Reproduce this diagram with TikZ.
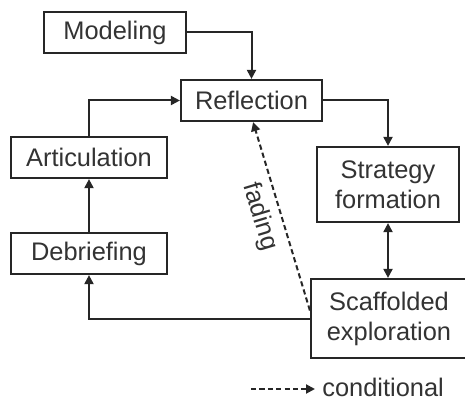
\documentclass[tikz,border=0pt]{standalone}
\usepackage{fontspec}
\setmainfont{Liberation Sans}
\usetikzlibrary{arrows.meta}
\begin{document}
\begin{tikzpicture}[x=0.5pt,y=-0.5pt,
  box/.style={draw=black!85, line width=1.1pt, fill=white, inner sep=0pt, align=center,
    font=\fontsize{12.7}{15}\selectfont, text=black!80},
  conn/.style={line width=1pt, draw=black!85, -{Triangle[length=4.5pt,width=4.5pt]}},
  dconn/.style={conn, dash pattern=on 2.6pt off 1.6pt},
  lbl/.style={font=\fontsize{12.7}{15}\selectfont, text=black!80, inner sep=0pt}]
\useasboundingbox (0,0) rectangle (465,401);
\clip (0,0) rectangle (465,401);
\node[box, minimum width=71pt, minimum height=20.5pt] (mod) at (115,32.5) {Modeling};
\node[box, minimum width=70.5pt, minimum height=20.5pt] (ref) at (251.5,100.5) {Reflection};
\node[box, minimum width=78pt, minimum height=20.5pt] (art) at (89,157.5) {Articulation};
\node[box, minimum width=78pt, minimum height=20.5pt] (deb) at (89,253.5) {Debriefing};
\node[box, minimum width=71pt, minimum height=37.5pt] (str) at (388,184.5) {Strategy\\formation};
\node[box, minimum width=78pt, minimum height=39.5pt] (sca) at (389,318.5) {Scaffolded\\exploration};
\draw[conn] (mod.east) -| (ref.north);
\draw[conn] (art.north) |- (ref.west);
\draw[conn] (ref.east) -| (str.north);
\draw[conn, {Triangle[length=4.5pt,width=4.5pt]}-{Triangle[length=4.5pt,width=4.5pt]}] (str.south) -- (str.south |- sca.north);
\draw[conn] (sca.west) -| (deb.south);
\draw[conn] (deb.north) -- (art.south);
\draw[dconn] ([yshift=4pt]sca.west) -- ([xshift=0.8pt]ref.south)
  node[lbl, sloped, below=4pt, pos=0.53] (fad) {fading};
\coordinate (l1) at (251,389);
\node[lbl, anchor=west] (leg) at (322,387) {conditional};
\draw[dconn] (l1) -- ([xshift=-3.5pt]leg.west |- l1);
\end{tikzpicture}
\end{document}
